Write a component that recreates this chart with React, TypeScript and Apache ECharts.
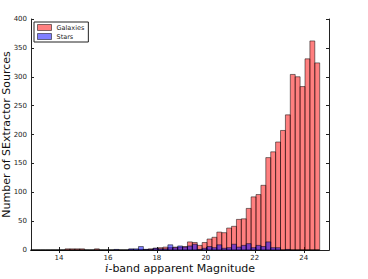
import React, { useEffect, useRef } from "react";
import * as echarts from "echarts";

// Histogram bins (i-band magnitude)
const BIN_START = 12.85;
const BIN_WIDTH = 0.2;

// Counts per bin (59 bins, 12.85 .. 24.65)
const galaxies = [
  0, 0, 0, 0, 0, 0, 0, 2, 2, 2,
  2, 0, 0, 2, 0, 0, 0, 0, 0, 0,
  1, 0, 1, 1, 2, 3, 4, 5, 4, 5,
  5, 6, 14, 13, 8, 13, 19, 22, 31, 30,
  38, 41, 53, 54, 72, 92, 96, 112, 160, 170,
  187, 207, 234, 304, 300, 283, 331, 362, 324,
];
const stars = [
  0, 0, 0, 0, 0, 0, 0, 0, 0, 0,
  0, 0, 0, 0, 0, 0, 0, 1, 0, 0,
  2, 2, 6, 1, 1, 3, 2, 2, 9, 4,
  7, 5, 7, 10, 1, 3, 6, 4, 9, 3,
  4, 10, 5, 8, 11, 4, 8, 6, 14, 4,
  4, 0, 1, 0, 0, 0, 0, 0, 0,
];

const xTicks = [14, 16, 18, 20, 22, 24];
const X_MIN = 12.86;
const X_MAX = 25.03;

const RED = "rgba(255,0,0,0.5)";
const BLUE = "rgba(0,0,255,0.5)";
const EDGE = "rgba(0,0,0,0.5)";
const FONT = "DejaVu Sans";

function toBars(counts: number[]) {
  return counts.map((c, i) => [
    BIN_START + i * BIN_WIDTH,
    BIN_START + (i + 1) * BIN_WIDTH,
    c,
  ]);
}

function makeRender(fill: string) {
  return (params: any, api: any) => {
    const x0 = api.value(0);
    const x1 = api.value(1);
    const v = api.value(2);
    const a = api.coord([x0, v]);
    const b = api.coord([x1, 0]);
    return {
      type: "rect",
      shape: { x: a[0], y: a[1], width: b[0] - a[0], height: b[1] - a[1] },
      style: { fill, stroke: EDGE, lineWidth: 1 },
    };
  };
}

export default function App() {
  const ref = useRef<HTMLDivElement>(null);
  useEffect(() => {
    if (!ref.current) return;
    const chart = echarts.init(ref.current, undefined, { renderer: "svg" });
    const axisLine = { show: true, lineStyle: { color: "#222", width: 1 } };
    chart.setOption({
      animation: false,
      backgroundColor: "#fff",
      grid: {
        left: 31,
        right: 39,
        top: 19,
        bottom: 29,
        containLabel: false,
        outerBoundsMode: "none",
      },
      legend: {
        orient: "vertical",
        left: 34,
        top: 22,
        borderColor: "#222",
        borderWidth: 1,
        padding: [2, 4, 2, 3],
        itemGap: 2,
        itemWidth: 14,
        itemHeight: 6,
        textStyle: { fontSize: 6.5, color: "#222", fontFamily: FONT },
        data: [
          {
            name: "Galaxies",
            icon: "rect",
            itemStyle: { color: RED, borderColor: EDGE, borderWidth: 1 },
          },
          {
            name: "Stars",
            icon: "rect",
            itemStyle: { color: BLUE, borderColor: EDGE, borderWidth: 1 },
          },
        ],
      },
      xAxis: [
        {
          type: "value",
          min: X_MIN,
          max: X_MAX,
          position: "bottom",
          axisLine,
          axisTick: {
            show: true,
            inside: true,
            length: 3,
            customValues: xTicks,
            lineStyle: { color: "#222" },
          },
          axisLabel: {
            customValues: xTicks,
            fontSize: 7,
            lineHeight: 8,
            color: "#222",
            margin: 4,
            fontFamily: FONT,
          },
          splitLine: { show: false },
          name: "{i|i}-band apparent Magnitude",
          nameLocation: "middle",
          nameGap: 12.5,
          nameMoveOverlap: false,
          nameTextStyle: {
            fontSize: 11,
            lineHeight: 11,
            color: "#111",
            fontFamily: FONT,
            rich: {
              i: {
                fontSize: 11,
                lineHeight: 11,
                fontStyle: "italic",
                fontFamily: "DejaVu Serif",
                color: "#111",
              },
            },
          },
        },
        {
          type: "value",
          min: X_MIN,
          max: X_MAX,
          position: "top",
          axisLine,
          axisTick: {
            show: true,
            inside: true,
            length: 3,
            customValues: xTicks,
            lineStyle: { color: "#222" },
          },
          axisLabel: { show: false },
          splitLine: { show: false },
        },
      ],
      yAxis: [
        {
          type: "value",
          min: 0,
          max: 400,
          interval: 50,
          position: "left",
          axisLine,
          axisTick: { show: true, inside: true, length: 3, lineStyle: { color: "#222" } },
          axisLabel: { fontSize: 7, color: "#222", margin: 4, fontFamily: FONT },
          splitLine: { show: false },
          name: "Number of SExtractor Sources",
          nameLocation: "middle",
          nameGap: 19,
          nameMoveOverlap: false,
          nameTextStyle: { fontSize: 11, color: "#111", fontFamily: FONT },
        },
        {
          type: "value",
          min: 0,
          max: 400,
          interval: 50,
          position: "right",
          axisLine,
          axisTick: { show: true, inside: true, length: 3, lineStyle: { color: "#222" } },
          axisLabel: { show: false },
          splitLine: { show: false },
        },
      ],
      series: [
        {
          name: "Galaxies",
          type: "custom",
          xAxisIndex: 0,
          yAxisIndex: 0,
          renderItem: makeRender(RED),
          encode: { x: [0, 1], y: 2 },
          itemStyle: { color: RED, borderColor: EDGE, borderWidth: 1 },
          data: toBars(galaxies),
        },
        {
          name: "Stars",
          type: "custom",
          xAxisIndex: 0,
          yAxisIndex: 0,
          renderItem: makeRender(BLUE),
          encode: { x: [0, 1], y: 2 },
          itemStyle: { color: BLUE, borderColor: EDGE, borderWidth: 1 },
          data: toBars(stars),
        },
      ],
    });
    return () => chart.dispose();
  }, []);
  return (
    <div
      ref={ref}
      style={{ position: "fixed", left: 0, top: 0, width: 368, height: 279 }}
    />
  );
}
